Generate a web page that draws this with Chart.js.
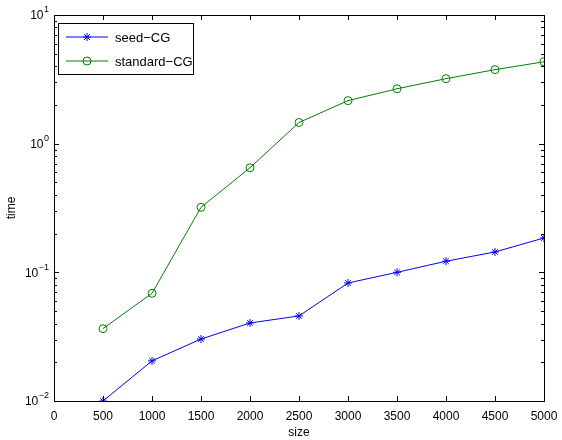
<!DOCTYPE html>
<html>
<head>
<meta charset="utf-8">
<script src="https://cdn.jsdelivr.net/npm/chart.js@4"></script>
<style>
  html, body { margin: 0; padding: 0; background: #fff; }
  #wrap { width: 562px; height: 440px; }
</style>
</head>
<body>
<div id="wrap"><canvas id="c"></canvas></div>
<script>
const sizes = [500, 1000, 1500, 2000, 2500, 3000, 3500, 4000, 4500, 5000];
const seedCG = [0.010, 0.0205, 0.0303, 0.0404, 0.0458, 0.0826, 0.100, 0.122, 0.144, 0.185];
const standardCG = [0.0365, 0.0687, 0.32, 0.65, 1.46, 2.16, 2.67, 3.2, 3.76, 4.33];
const xTicks = [0, 500, 1000, 1500, 2000, 2500, 3000, 3500, 4000, 4500, 5000];
const yDecades = [-2, -1, 0, 1];

const FONT = "Liberation Sans, Arial, Helvetica, sans-serif";

function pts(vals) {
  return sizes.map((s, i) => ({ x: s, y: vals[i] }));
}

// box, inward ticks, exponent labels, legend
const matlabAxes = {
  id: "matlabAxes",
  afterDraw(chart) {
    const ctx = chart.ctx;
    const a = chart.chartArea;
    const xs = chart.scales.x, ys = chart.scales.y;
    ctx.save();
    ctx.strokeStyle = "#000";
    ctx.lineWidth = 1;
    ctx.strokeRect(Math.round(a.left) + 0.5, Math.round(a.top) + 0.5,
      Math.round(a.right - a.left), Math.round(a.bottom - a.top));

    ctx.beginPath();
    xTicks.forEach(v => {
      const px = Math.round(xs.getPixelForValue(v)) + 0.5;
      ctx.moveTo(px, a.bottom); ctx.lineTo(px, a.bottom - 5);
      ctx.moveTo(px, a.top); ctx.lineTo(px, a.top + 5);
    });
    for (let d = -2; d <= 0; d++) {
      for (let m = 1; m <= 10; m++) {
        const v = m * Math.pow(10, d);
        const py = Math.round(ys.getPixelForValue(v)) + 0.5;
        const len = (m === 1 || m === 10) ? 5 : 3;
        ctx.moveTo(a.left, py); ctx.lineTo(a.left + len, py);
        ctx.moveTo(a.right, py); ctx.lineTo(a.right - len, py);
      }
    }
    ctx.stroke();

    // y tick labels 10^n
    ctx.fillStyle = "#000";
    ctx.textBaseline = "middle";
    yDecades.forEach(d => {
      const py = ys.getPixelForValue(Math.pow(10, d));
      const exp = d < 0 ? "\u2212" + (-d) : String(d);
      ctx.font = "9px " + FONT;
      const ew = ctx.measureText(exp).width;
      ctx.textAlign = "left";
      const ex = a.left - 5 - ew;
      ctx.fillText(exp, ex, py - 5);
      ctx.font = "12px " + FONT;
      ctx.textAlign = "right";
      ctx.fillText("10", ex - 0.5, py + 1);
    });

    // legend
    const lx = a.left + 4, ly = a.top + 8, lw = 135, lh = 51;
    ctx.fillStyle = "#fff";
    ctx.fillRect(lx, ly, lw, lh);
    ctx.strokeStyle = "#000";
    ctx.strokeRect(Math.round(lx) + 0.5, Math.round(ly) + 0.5, lw, lh);
    chart.data.datasets.forEach((ds, i) => {
      const yy = ly + 14 + i * 24;
      ctx.strokeStyle = ds.borderColor;
      ctx.fillStyle = ds.backgroundColor;
      ctx.lineWidth = 1;
      ctx.beginPath();
      ctx.moveTo(lx + 8, yy); ctx.lineTo(lx + 50, yy);
      ctx.stroke();
      Chart.helpers.drawPoint(ctx, {
        pointStyle: ds.pointStyle, radius: ds.pointRadius, borderWidth: 1
      }, lx + 29, yy);
      ctx.fillStyle = "#000";
      ctx.font = "13px " + FONT;
      ctx.textAlign = "left";
      ctx.textBaseline = "middle";
      ctx.fillText(ds.label, lx + 57, yy + 1);
    });
    ctx.restore();
  }
};

new Chart(document.getElementById("c"), {
  type: "line",
  data: {
    datasets: [
      {
        label: "seed\u2212CG",
        data: pts(seedCG),
        borderColor: "#0000ff",
        backgroundColor: "#0000ff",
        borderWidth: 1,
        pointStyle: "star",
        pointRadius: 4,
        pointBorderWidth: 1,
        tension: 0
      },
      {
        label: "standard\u2212CG",
        data: pts(standardCG),
        borderColor: "#008000",
        backgroundColor: "rgba(0,0,0,0)",
        borderWidth: 1,
        pointStyle: "circle",
        pointRadius: 4,
        pointBorderWidth: 1,
        tension: 0
      }
    ]
  },
  options: {
    responsive: true,
    maintainAspectRatio: false,
    animation: false,
    layout: { padding: { top: 15, right: 18, left: 0, bottom: 0 } },
    plugins: {
      legend: { display: false },
      tooltip: { enabled: false }
    },
    scales: {
      x: {
        type: "linear",
        min: 0,
        max: 5000,
        grid: { display: false, drawTicks: false },
        border: { display: false },
        afterBuildTicks: s => { s.ticks = xTicks.map(v => ({ value: v })); },
        ticks: {
          color: "#000",
          font: { family: FONT, size: 12 },
          padding: 8,
          maxRotation: 0,
          autoSkip: false,
          callback: v => String(v)
        },
        title: {
          display: true,
          text: "size",
          color: "#000",
          font: { family: FONT, size: 12 },
          padding: { top: 2, bottom: 0 }
        },
        afterFit: s => { s.height = 39; s.paddingLeft = 0; s.paddingRight = 0; }
      },
      y: {
        type: "logarithmic",
        min: 0.01,
        max: 10,
        grid: { display: false, drawTicks: false },
        border: { display: false },
        ticks: { display: false },
        title: {
          display: true,
          text: "time",
          color: "#000",
          font: { family: FONT, size: 12 },
          padding: { top: 4, bottom: 0 }
        },
        afterFit: s => { s.width = 54; }
      }
    }
  },
  plugins: [matlabAxes]
});
</script>
</body>
</html>
